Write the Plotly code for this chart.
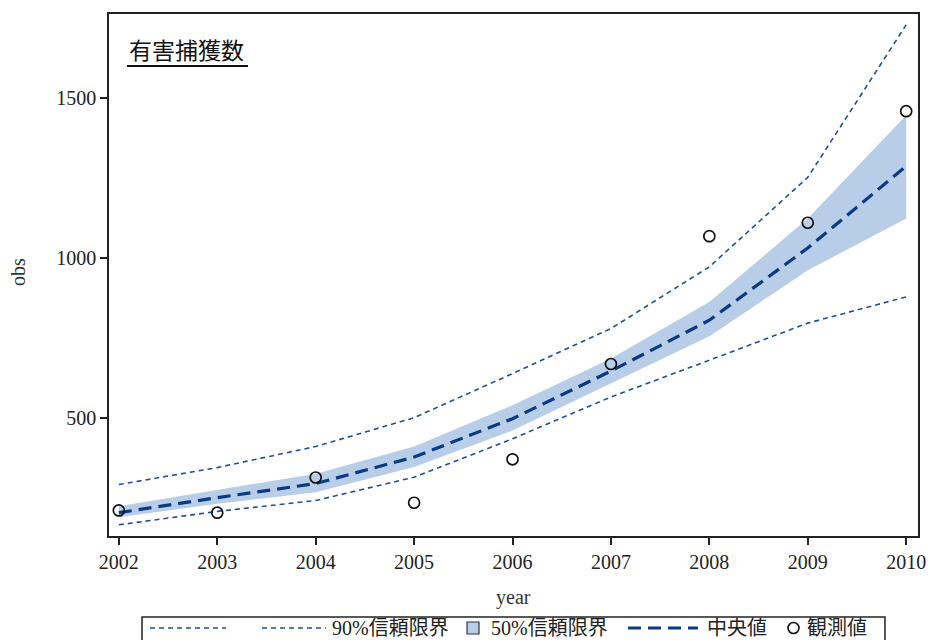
import plotly.graph_objects as go

# Catch records by year with model percentile bands
years = [2002, 2003, 2004, 2005, 2006, 2007, 2008, 2009, 2010]
observed = [211, 204, 314, 235, 371, 669, 1069, 1111, 1460]
median = [204, 251, 295, 378, 498, 647, 806, 1032, 1288]
lower50 = [190, 232, 268, 347, 461, 608, 756, 962, 1124]
upper50 = [224, 274, 326, 411, 540, 686, 863, 1124, 1447]
lower90 = [166, 208, 242, 315, 435, 566, 681, 797, 879]
upper90 = [292, 345, 411, 501, 639, 780, 973, 1253, 1730]
y_ticks = [500, 1000, 1500]

title_text = "有害捕獲数"
legend_labels = ["90%信頼限界", "50%信頼限界", "中央値", "観測値"]

W, H = 933, 640
ML, MR, MT, MB = 109, 15, 14, 104
PW, PH = W - ML - MR, H - MT - MB

BAND = "#B8CDE7"
LINE90 = "#1F4F9C"
MED = "#0A3A82"
FONT = "Liberation Serif, Noto Sans CJK JP, serif"
MED_DASH = "13px,7px"


def px(x):
    return (x - ML) / PW


def py(y):
    return (H - MB - y) / PH


fig = go.Figure()

# 50% band
fig.add_trace(go.Scatter(x=years, y=lower50, mode="lines", line=dict(width=0),
                         showlegend=False, hoverinfo="skip"))
fig.add_trace(go.Scatter(x=years, y=upper50, mode="lines", line=dict(width=0),
                         fill="tonexty", fillcolor=BAND, showlegend=False))
# 90% limits
for series in (upper90, lower90):
    fig.add_trace(go.Scatter(x=years, y=series, mode="lines",
                             line=dict(color=LINE90, width=1.6, dash="5px,4px"),
                             showlegend=False))
# median
fig.add_trace(go.Scatter(x=years, y=median, mode="lines",
                         line=dict(color=MED, width=3.2, dash=MED_DASH),
                         showlegend=False))
# observations
fig.add_trace(go.Scatter(x=years, y=observed, mode="markers",
                         marker=dict(symbol="circle-open", size=11, color="#111",
                                     line=dict(width=1.7, color="#111")),
                         showlegend=False))

axis_common = dict(showline=True, linecolor="#222", linewidth=1.6, mirror=True,
                   ticks="outside", ticklen=7, tickwidth=1.5, tickcolor="#222",
                   showgrid=False, zeroline=False, automargin=False,
                   tickfont=dict(family=FONT, size=20, color="#222"))

fig.update_xaxes(range=[2001.9, 2010.12], tickvals=years, **axis_common)
fig.update_yaxes(range=[131, 1764], tickvals=y_ticks, **axis_common)

shapes = []
annotations = []

# title with underline
annotations.append(dict(x=px(127), y=py(52), xref="paper", yref="paper",
                        text=title_text, showarrow=False, xanchor="left",
                        yanchor="middle", font=dict(family=FONT, size=23, color="#111")))
shapes.append(dict(type="line", xref="paper", yref="paper",
                   x0=px(127), x1=px(248), y0=py(66), y1=py(66),
                   line=dict(color="#111", width=2.2)))

# axis titles
annotations.append(dict(x=px(18), y=py(272), xref="paper", yref="paper", text="obs",
                        textangle=-90, showarrow=False, xanchor="center", yanchor="middle",
                        font=dict(family=FONT, size=20, color="#333")))
annotations.append(dict(x=px(513), y=py(597), xref="paper", yref="paper", text="year",
                        showarrow=False, xanchor="center", yanchor="middle",
                        font=dict(family=FONT, size=20, color="#333")))

# legend box
shapes.append(dict(type="rect", xref="paper", yref="paper",
                   x0=px(142), x1=px(885), y0=py(617), y1=py(660),
                   line=dict(color="#222", width=1.5), fillcolor="white"))
ly = py(628)
for x0, x1 in ((150, 226), (262, 326)):
    shapes.append(dict(type="line", xref="paper", yref="paper", x0=px(x0), x1=px(x1),
                       y0=ly, y1=ly, line=dict(color=LINE90, width=1.6, dash="5px,4px")))
shapes.append(dict(type="rect", xref="paper", yref="paper", x0=px(467), x1=px(479),
                   y0=py(634), y1=py(622), fillcolor=BAND, line=dict(color="#333", width=1.2)))
shapes.append(dict(type="line", xref="paper", yref="paper", x0=px(628), x1=px(698),
                   y0=ly, y1=ly, line=dict(color=MED, width=3.2, dash=MED_DASH)))
shapes.append(dict(type="circle", xref="paper", yref="paper", x0=px(788), x1=px(799),
                   y0=py(633.5), y1=py(622.5), line=dict(color="#111", width=1.6)))
for xl, lab in zip((330, 489, 705, 805), legend_labels):
    annotations.append(dict(x=px(xl), y=ly, xref="paper", yref="paper", text=lab,
                            showarrow=False, xanchor="left", yanchor="middle",
                            font=dict(family=FONT, size=20, color="#222")))

fig.update_layout(width=W, height=H, margin=dict(l=ML, r=MR, t=MT, b=MB),
                  paper_bgcolor="white", plot_bgcolor="white",
                  shapes=shapes, annotations=annotations, showlegend=False)

fig.write_html("out.html")
